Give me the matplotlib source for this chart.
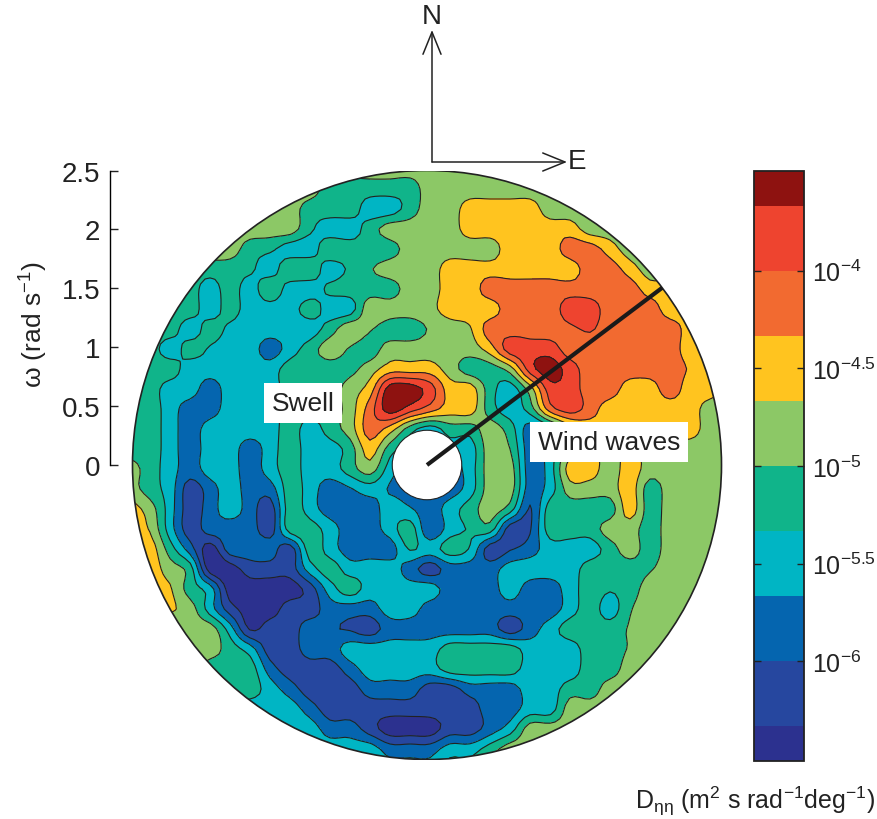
import numpy as np
import matplotlib
matplotlib.use("Agg")
import matplotlib.pyplot as plt
from matplotlib.patches import Circle
from matplotlib.colors import ListedColormap, BoundaryNorm

plt.rcParams['font.family'] = ['Liberation Sans', 'DejaVu Sans']
plt.rcParams['mathtext.fontset'] = 'custom'
plt.rcParams['mathtext.rm'] = 'Liberation Sans'
plt.rcParams['mathtext.it'] = 'Liberation Sans:italic'
plt.rcParams['mathtext.default'] = 'regular'

# Contour band read at each grid node (0 = lowest band ... 9 = highest band);
# fractions place a node nearer to a band edge
row_170 = [5]*31
row_190 = [5,5,5,5,5,5,5,5,5,5,4,4,4,4,4,5,5,5,5,5,5,5,5,5,5,5,5,5,5,5,5]
row_210 = [5,5,5,5,5,5,5,5,5,4,4,4,3,3,4,5,5,6,6,6,6,5,5,5,5,5,5,5,5,5,5]
row_230 = [5,5,5,5,5,5,5,5,5,3.7,3,3,4,5,5,5,5,6,6,6,6,6,6,5,5,5,5,5,5,5,5]
row_250 = [5,5,5,5,5,5,4,3.7,3,3,4.2,4,3.7,4,5,5,5,5,5,6,6,6,7,7,6,5,5,5,5,5,5]
row_270 = [4,4,4,4,4,4,3.7,3,4.3,4.2,3,3.7,4.4,5,5,5,6,6,6,6,6,6,6,7,7,6,5,5,5,5,5]
row_290 = [4,4,4,4,3,4,3,4.3,3,3,3.7,4,4,4,5,5,6,6,7,7,7,7,7,7,7,7,6,6,5,5,5]
row_310 = [4,4,4,4,3,3.9,3,3,3,4,3,3,5.2,5,5,5.2,6,6,6,7,7,7,8,8,7,7,7,6,6,5,5]
row_330 = [4,4,4,3,3.9,3.3,3,3,3,3,4,5.2,4.6,4,4,4.6,5,5.4,7,7,7,7,7.3,7.6,7,7,7,7,6,5,5]
row_350 = [4,4,3,3.9,3.4,3,3,2,3,4,5,4.4,4,5,5,5,5,5,6,8,8,8,7,7,7,7,7,7,6,6,5]
row_370 = [4,4,4,3,3,3,3,3,4,4,4,4.2,5,6,6,6,5,4,4,5,8,9,8,7,7,7,7,7,6.4,6,5]
row_390 = [4,4,3,3,2,3,3,3,4,4,4,5,6,9,9,8,6,6,4,3,5,8,8,7,7,6,6,7,6,6,5]
row_410 = [4,4,3,2,2,3,3,3,4,4,4,5,7,9,8,7,6,6,4,3,4,7,8,7,6,6,6,6,6,5,5]
row_430 = [4,4,3,2,3,3,3,3,4,3,4,5,7,6,4,3,4,4,5,4,2,3,5,6,6,6,6,6,6,5,5]
row_450 = [4,4,3,2,3,3,2,3,4,3,3,4,6,4,3,3,3,3,5,4.5,2,3,5,6,5,6,5,5,5,5,5]
row_470 = [5,4,3,2,3,3,2,3,4,3,3,4,5,3,2,2,2,3,5,5,2,3,6,6,5,6,5,5,5,5,5]
row_490 = [5,4,3,1,2,3,2,2,4,3,2,2.4,3,2.4,2,2,2,3,5,5,2,3,5,5,5,6,4,5,5,5,5]
row_510 = [6,5,3,1,2,3,2,1,4,3,2,2,2,3,2.6,2,3,4,5,4,1.4,4,4,4,4,6,4,5,5,5,5]
row_530 = [6,5.4,3,1,2,2,2,1,4,4,3,2,2,3,4,1.6,3,3.6,4,1,1.4,4,4,4,5,5,4,5,5,5,5]
row_550 = [6,6,4,2,0,2,2,2,1,4,3,2,2,2,3.6,3,4,3.4,1,1.4,2,3,3,3,4,5,4,5,5,5,5]
row_570 = [6,6,5,4,0,0,1,1,1,3,4,3,3,3,2,1,2,2,2,3,3,3,3,4,4,4,4.4,5,5,5,5]
row_590 = [5.6,5.6,5.6,4,3,0,0,0,0,1,3,4,3,3,3,3,2,2,2,3,2,2,3,4,3.6,4,5,5,5,5,5]
row_610 = [5.6,5.6,5.6,5,3,1,0,0,1,1,2,2,2,3,3,2,2,2,2,2,2,2,3,4,3,4.4,5,5,5,5,5]
row_630 = [5,5,5,5,5,3,0.4,1,1,2,1.6,1.4,1,2,2,2,2,2,2,1,2,3,4,4,4,4.6,5,5,5,5,5]
row_650 = [5,5,5,5,5,4,3,1,1,2,2,3,3,3,3,3,4,4,4,4,3,3,3,4,4,4.6,5,5,5,5,5]
row_670 = [5,5,5,5,4,4,4,2,1,1,1,2,3,3,3,3,4,4,4,4,3,3,3,4,4,5,5,5,5,5,5]
row_690 = [4,4,4,4,4,4,4,3,2,1,1,1,2,2,2,1,1,2,2,2,3,3,4,4,5,5,5,5,5,5,5]
row_710 = [3,3,3,3,3,3,3,3,3,2,1,1,1,1,1,1,1,1,2,2,3,3,5,5,5,5,5,5,5,5,5]
row_730 = [3,3,3,3,3,3,3,3,3,3,2,2,1,0,0,0,1,1,2,3,5,5,5,5,5,5,5,5,5,5,5]
row_750 = [3,3,3,3,3,3,3,3,3,3,3,3,3,2,2,2,3,3,4,5,5,5,5,5,5,5,5,5,5,5,5]
row_770 = [3,3,3,3,3,3,3,3,3,3,3,3,3,3,3,3,4,4,5,5,5,5,5,5,5,5,5,5,5,5,5]

band_rows = [row_170,row_190,row_210,row_230,row_250,row_270,row_290,row_310,
             row_330,row_350,row_370,row_390,row_410,row_430,row_450,row_470,
             row_490,row_510,row_530,row_550,row_570,row_590,row_610,row_630,
             row_650,row_670,row_690,row_710,row_730,row_750,row_770]

# log10 edges of the contour bands
band_edges = [-6.51,-6.333,-6.0,-5.667,-5.333,-5.0,-4.667,-4.333,-4.0,-3.667,-3.49]
band_values = [-6.5,-6.167,-5.833,-5.5,-5.167,-4.833,-4.5,-4.167,-3.833,-3.5]
band_colors = ['#2C318F','#26479F','#0565AF','#00B5C4','#10B48A',
               '#8CC866','#FFC41F','#F26A30','#EE442F','#8E1210']
cbar_ticks = [-6,-5.5,-5,-4.5,-4]
cbar_labels = [r'$10^{-6}$',r'$10^{-5.5}$',r'$10^{-5}$',r'$10^{-4.5}$',r'$10^{-4}$']
omega_ticks = [0,0.5,1,1.5,2,2.5]
omega_labels = ['0','0.5','1','1.5','2','2.5']
wind_bearing_deg = 53.0
omega_max = 2.5
omega_hole = 0.295

W, H = 877, 820
CX, CY, PX = 427.0, 466.0, 117.8
fig = plt.figure(figsize=(W/100, H/100), dpi=100)

def rect(x0, y0, x1, y1):
    return [x0/W, 1-y1/H, (x1-x0)/W, (y1-y0)/H]

def figpt(x, y):
    return (x/W, 1-y/H)

def catmull_rom(a, factor, axis):
    a = np.moveaxis(a, axis, 0)
    p = np.concatenate([2*a[:1]-a[1:2], a, 2*a[-1:]-a[-2:-1]], axis=0)
    n = a.shape[0]
    t = np.linspace(0, n-1, (n-1)*factor+1)
    i = np.minimum(t.astype(int), n-2)
    f = (t-i).reshape((-1,)+(1,)*(a.ndim-1))
    p0, p1, p2, p3 = p[i], p[i+1], p[i+2], p[i+3]
    out = 0.5*(2*p1+(p2-p0)*f+(2*p0-5*p1+4*p2-p3)*f**2+(3*p1-p0-3*p2+p3)*f**3)
    return np.moveaxis(out, 0, axis)

ax = fig.add_axes(rect(110, 171.5, 730, 761))
ax.set_xlim((110-CX)/PX, (730-CX)/PX)
ax.set_ylim((CY-761)/PX, (CY-171.5)/PX)

grid_x = (np.arange(130, 731, 20)-CX)/PX
grid_y = (CY-np.arange(170, 771, 20))/PX
Z = np.interp(np.array(band_rows, dtype=float), np.arange(10), band_values)
FACTOR = 4
Zf = np.clip(catmull_rom(catmull_rom(Z, FACTOR, 0), FACTOR, 1), -6.5, -3.5)
xf = np.linspace(grid_x[0], grid_x[-1], (len(grid_x)-1)*FACTOR+1)
yf = np.linspace(grid_y[0], grid_y[-1], (len(grid_y)-1)*FACTOR+1)

cmap = ListedColormap(band_colors)
norm = BoundaryNorm(band_edges, cmap.N)
cs = ax.contourf(xf, yf, Zf, levels=band_edges, cmap=cmap, norm=norm)
cl = ax.contour(xf, yf, Zf, levels=band_edges[1:-1], colors='#222222', linewidths=0.8, linestyles='solid')
disk = Circle((0,0), omega_max, transform=ax.transData, fc='none', ec='#222222', lw=1.2, zorder=3)
ax.add_patch(disk)
cs.set_clip_path(disk)
cl.set_clip_path(disk)
ax.add_patch(Circle((0,0), omega_hole, fc='white', ec='#222222', lw=0.8, zorder=3))

theta = np.deg2rad(wind_bearing_deg)
ax.plot([0, omega_max*np.sin(theta)], [0, omega_max*np.cos(theta)], color='#1a1a1a', lw=3, zorder=4, solid_capstyle='butt')

for s in ['top','right','bottom']:
    ax.spines[s].set_visible(False)
ax.spines['left'].set_bounds(0, omega_max)
ax.spines['left'].set_linewidth(1.0)
ax.set_xticks([])
ax.set_yticks(omega_ticks)
ax.set_yticklabels(omega_labels)
ax.tick_params(axis='y', direction='in', length=6, width=1.0, labelsize=20, pad=7, colors='#222222')
ax.patch.set_visible(False)

# annotations
fig.text(*figpt(303,404), 'Swell', fontsize=19, ha='center', va='center', color='#222222',
         bbox=dict(fc='white', ec='none', boxstyle='square,pad=0.3'), zorder=6)
fig.text(*figpt(609,443), 'Wind waves', fontsize=19, ha='center', va='center', color='#222222',
         bbox=dict(fc='white', ec='none', boxstyle='square,pad=0.3'), zorder=6)
fig.text(*figpt(34,325), 'ω (rad s$^{-1}$)', fontsize=19, rotation=90, ha='center', va='center', color='#222222')
fig.text(*figpt(875,801), r'D$_{\eta\eta}$ (m$^{2}$ s rad$^{-1}$deg$^{-1}$)', fontsize=18, ha='right', va='center', color='#222222')

# compass
for end in [(432,31),(567,163)]:
    ax.annotate('', xy=figpt(*end), xytext=figpt(432,163), xycoords='figure fraction', textcoords='figure fraction',
                arrowprops=dict(arrowstyle='->,head_length=1.6,head_width=0.65', lw=1.1, color='#222222', shrinkA=0, shrinkB=0), annotation_clip=False)
fig.text(*figpt(432,17), 'N', fontsize=20, ha='center', va='center', color='#222222')
fig.text(*figpt(577,162), 'E', fontsize=20, ha='center', va='center', color='#222222')

# colour bar
cax = fig.add_axes(rect(754, 172, 804, 762))
cb = fig.colorbar(cs, cax=cax, ticks=cbar_ticks, spacing='proportional')
cb.set_ticklabels(cbar_labels)
cb.ax.tick_params(which='both', direction='in', length=5, width=1.0, labelsize=18, pad=6, left=True, right=True, colors='#222222')
cb.ax.minorticks_off()
cb.outline.set_linewidth(1.3)
cb.outline.set_edgecolor('#222222')

fig.savefig('out.png', dpi=100)
